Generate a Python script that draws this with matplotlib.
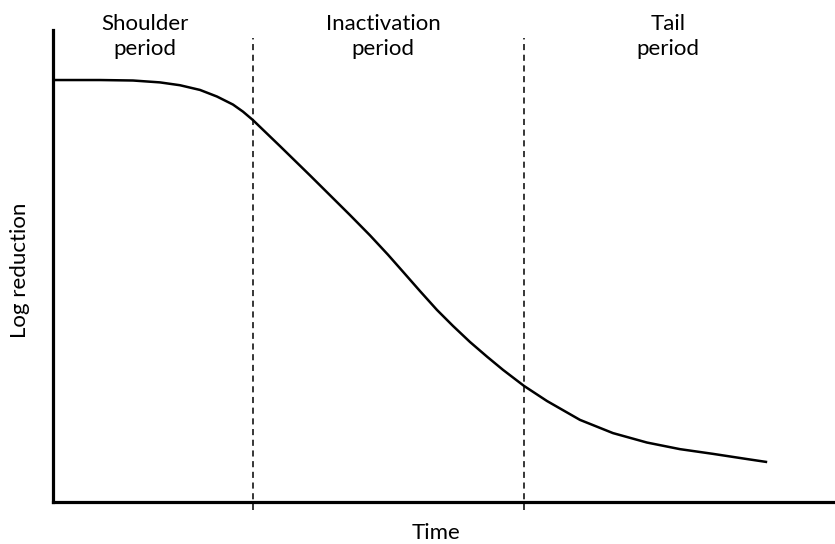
import numpy as np
import matplotlib.pyplot as plt

plt.rcParams['font.family'] = ['Lato', 'DejaVu Sans']

# curve (time, log reduction)
time = [0.0, 6.11, 10.40, 13.91, 16.51, 19.12, 21.33, 23.41, 24.71, 26.01,
        29.52, 33.42, 36.02, 38.62, 41.22, 43.56, 45.51, 47.72, 49.93, 52.02,
        54.23, 56.44, 58.52, 61.25, 64.24, 68.53, 72.82, 77.24, 81.53, 85.83,
        90.25, 92.72]
log_red = [8.94, 8.94, 8.93, 8.89, 8.83, 8.73, 8.59, 8.42, 8.27, 8.09,
           7.54, 6.92, 6.50, 6.08, 5.65, 5.24, 4.88, 4.47, 4.07, 3.73,
           3.39, 3.08, 2.80, 2.46, 2.14, 1.74, 1.46, 1.26, 1.12, 1.02,
           0.91, 0.85]

boundaries = [26.01, 61.25]
periods = ['Shoulder\nperiod', 'Inactivation\nperiod', 'Tail\nperiod']
period_x = [0.174, 0.459, 0.800]

fig = plt.figure(figsize=(8.35, 5.44), dpi=100)
ax = fig.add_axes([53/835, 42/544, 1 - 53/835, 472/544])

ax.plot(time, log_red, color='black', linewidth=1.8, solid_joinstyle='round')
for b in boundaries:
    ax.axvline(b, ymin=-0.017, ymax=0.983, color='black', linestyle=(0, (4, 3)),
               linewidth=1.1, clip_on=False)

ax.set_xlim(0, 101.7)
ax.set_ylim(0, 10)
ax.set_xticks([])
ax.set_yticks([])
ax.spines['top'].set_visible(False)
ax.spines['right'].set_visible(False)
ax.spines['left'].set_linewidth(2.3)
ax.spines['bottom'].set_linewidth(2.3)

for lab, xx in zip(periods, period_x):
    fig.text(xx, 0.933, lab, ha='center', va='center', fontsize=16, linespacing=1.32)

fig.text(0.522, 0.020, 'Time', ha='center', va='center', fontsize=16)
fig.text(0.024, 0.504, 'Log reduction', ha='center', va='center', rotation=90, fontsize=16)

fig.savefig('out.png', dpi=100)
